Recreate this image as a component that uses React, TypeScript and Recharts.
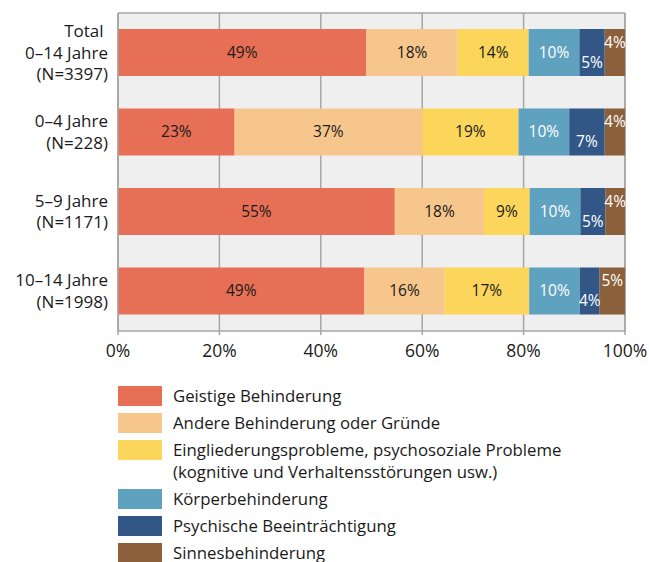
import { BarChart, Bar, XAxis, YAxis, CartesianGrid, LabelList } from "recharts";

const groups = [
  "Total \n0–14 Jahre\n(N=3397)",
  "0–4 Jahre\n(N=228)",
  "5–9 Jahre\n(N=1171)",
  "10–14 Jahre\n(N=1998)",
];

const geistige = [49, 23, 54.6, 48.6];
const andere = [18, 37, 17.6, 15.8];
const eingliederung = [14, 19, 9.0, 16.7];
const koerper = [10, 10, 10.0, 10.0];
const psychische = [5, 7, 4.9, 3.9];
const sinne = [4, 4, 3.9, 5.0];

const xTicks = [0, 20, 40, 60, 80, 100];

const seriesNames = [
  "Geistige Behinderung",
  "Andere Behinderung oder Gründe",
  "Eingliederungsprobleme, psychosoziale Probleme\n(kognitive und Verhaltensstörungen usw.)",
  "Körperbehinderung",
  "Psychische Beeinträchtigung",
  "Sinnesbehinderung",
];

const seriesKeys = ["geistige", "andere", "eingliederung", "koerper", "psychische", "sinne"];
const colors = ["#e76f55", "#f6c68c", "#fbd65b", "#5fa2bf", "#325787", "#8b603a"];
const labelColors = ["#1a1a1a", "#1a1a1a", "#1a1a1a", "#ffffff", "#ffffff", "#ffffff"];
const labelShift = [0, 0, 0, 0, 10, -10];

const data = groups.map((g, i) => ({
  group: g,
  geistige: geistige[i],
  andere: andere[i],
  eingliederung: eingliederung[i],
  koerper: koerper[i],
  psychische: psychische[i],
  sinne: sinne[i],
}));

const FONT = "'Open Sans', sans-serif";

function GroupTick(props: any) {
  const { x, y, payload } = props;
  const lines = String(payload.value).split("\n");
  const lh = 21.5;
  const start = -((lines.length - 1) * lh) / 2;
  return (
    <text x={x} y={y} textAnchor="end" fontFamily={FONT} fontSize={17} fill="#1a1a1a">
      {lines.map((l, i) => (
        <tspan key={i} x={x} y={y + start + i * lh} dy="0.35em">
          {l}
        </tspan>
      ))}
    </text>
  );
}

function makeLabel(idx: number) {
  return (props: any) => {
    const { x, y, width, height, value } = props;
    const cx = Number(x) + Number(width) / 2;
    const cy = Number(y) + Number(height) / 2 + labelShift[idx];
    return (
      <text
        x={cx}
        y={cy}
        dy="0.35em"
        textAnchor="middle"
        fontFamily={FONT}
        fontSize={15.5}
        fill={labelColors[idx]}
      >
        {Math.round(Number(value))}%
      </text>
    );
  };
}

export default function App() {
  return (
    <div style={{ position: "fixed", left: 0, top: 0, width: 649, height: 562, overflow: "hidden", background: "#fff" }}>
      <BarChart
        width={649}
        height={380}
        data={data}
        layout="vertical"
        margin={{ top: 13, right: 24, bottom: 9, left: 0 }}
        barSize={47}
      >
        <CartesianGrid
          fill="#efefef"
          stroke="#a6a6a6"
          strokeWidth={1.5}
          horizontal={true}
          horizontalPoints={[13]}
          vertical={true}
        />
        <XAxis
          type="number"
          domain={[0, 100]}
          ticks={xTicks}
          tickFormatter={(v) => `${v}%`}
          axisLine={{ stroke: "#a6a6a6", strokeWidth: 1.5 }}
          tickLine={{ stroke: "#a6a6a6", strokeWidth: 1.5 }}
          tickSize={4}
          tickMargin={10}
          height={40}
          tick={{ fontFamily: FONT, fontSize: 17.5, fill: "#1a1a1a" }}
        />
        <YAxis
          type="category"
          dataKey="group"
          width={118}
          axisLine={{ stroke: "#a6a6a6", strokeWidth: 1.5 }}
          tickLine={false}
          tickSize={0}
          tickMargin={10}
          tick={<GroupTick />}
        />
        {seriesKeys.map((k, i) => (
          <Bar key={k} dataKey={k} stackId="a" fill={colors[i]} isAnimationActive={false}>
            <LabelList dataKey={k} content={makeLabel(i)} />
          </Bar>
        ))}
      </BarChart>
      <div style={{ position: "absolute", left: 118, top: 385, fontFamily: FONT, fontSize: 16.8, color: "#1a1a1a" }}>
        {seriesNames.map((n, i) => (
          <div key={n} style={{ display: "flex", alignItems: "flex-start", marginBottom: 5 }}>
            <div style={{ width: 44, height: 20, background: colors[i], marginTop: 1, flex: "none" }} />
            <div style={{ marginLeft: 11, lineHeight: "22px", whiteSpace: "pre-line" }}>{n}</div>
          </div>
        ))}
      </div>
    </div>
  );
}
